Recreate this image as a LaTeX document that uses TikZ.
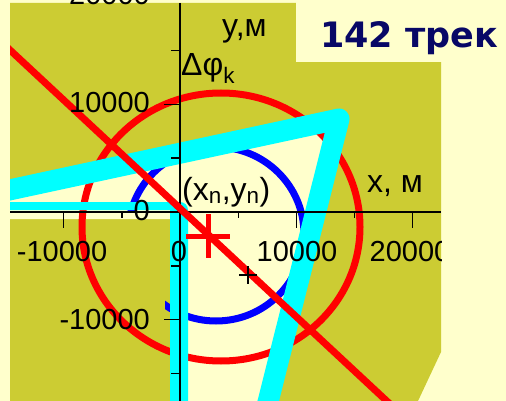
\documentclass[tikz,border=0pt]{standalone}
\usepackage{fontspec}
\setmainfont{Liberation Sans}
\newfontfamily\titlefont{DejaVu Sans}
\usetikzlibrary{positioning}
\definecolor{olivebg}{RGB}{204,204,51}
\definecolor{paper}{RGB}{255,255,204}
\definecolor{beam}{RGB}{0,255,255}
\definecolor{navytitle}{RGB}{8,8,102}

\begin{document}
\begin{tikzpicture}[
    x=1pt, y=-1pt,
    ticklabel/.style={
        font=\fontsize{29}{29}\selectfont,
        inner sep=0pt
    },
    axistitle/.style={
        font=\fontsize{32}{32}\selectfont,
        inner sep=0pt
    },
    beamline/.style={
        draw=beam,
        line width=21pt,
        line join=round
    },
    tickline/.style={
        line width=1.2pt
    }
]

\clip (0,0) rectangle (506,401);
\fill[paper] (0,0) rectangle (506,401);

% plot area
\fill[olivebg] (10,3) -- (441,3) -- (441,352) -- (418,401) -- (10,401) -- cycle;

\begin{scope}
\clip (10,3) rectangle (441,401);

% lit sector
\fill[paper] (0,192) -- (339,119) -- (266,410) -- (179,410) -- (179,219) -- (0,219) -- cycle;

% inner circle, only inside the sector
\begin{scope}
\clip (0,192) -- (339,119) -- (266,410) -- (165,410) -- (165,212) -- (0,212) -- cycle;
\draw[blue, line width=7pt] (216,234) ellipse [x radius=88pt, y radius=87pt];
\end{scope}

\draw[red, line width=7pt] (221,227) ellipse [x radius=139pt, y radius=134pt];

% beam edges
\draw[beamline] (0,192) -- (339,119) -- (266,410);
\fill[beam] (0,202) -- (180,202) arc[start angle=90, end angle=0, radius=8pt]
    -- (188,410) -- (170,410) -- (170,210) -- (0,210) -- cycle;

% axes
\draw[tickline] (10,212) -- (441,212);
\draw[tickline] (180,3) -- (180,401);
\draw[tickline] (63.7,212) -- ++(0,16) (296.3,212) -- ++(0,16) (412.6,212) -- ++(0,16);
\draw[tickline] (122,212) -- ++(0,6) (238.2,212) -- ++(0,6) (354.5,212) -- ++(0,6);
\draw[tickline] (180,-3.4) -- ++(-16,0) (180,104.3) -- ++(-16,0)
    (180,212) -- ++(-16,0) (180,319.7) -- ++(-16,0);
\draw[tickline] (180,50.6) -- ++(-9,0) (180,158) -- ++(-9,0)
    (180,266) -- ++(-9,0) (180,373.4) -- ++(-9,0);

% track line and points
\draw[red, line width=7pt] (0,40.7) -- (420,432);
\draw[red, line width=5pt] (186,236) -- (230,236) (208,214) -- (208,258);
\draw[line width=1.6pt] (239,275) -- (257,275) (248,266) -- (248,284);

% tick labels
\node[ticklabel] (xm1) at (62,252) {-10000};
\node[ticklabel] (x0) at (179,252) {0};
\node[ticklabel] (x1) at (297,252) {10000};
\node[ticklabel] (x2) at (410,252) {20000};
\end{scope}

\node[ticklabel, anchor=east] (y2) at (150,-5) {20000};
\node[ticklabel, anchor=east] (y1) at (150,103) {10000};
\node[ticklabel, anchor=east] (y0) at (150,211) {0};
\node[ticklabel, anchor=east] (ym1) at (150,320) {-10000};

% axis titles
\node[axistitle, anchor=base west] (ytitle) at (222,37) {y,м};
\node[axistitle, anchor=base west] (xtitle) at (367,192) {x, м};
\node[axistitle, anchor=base west] (dphi) at (181,76) {Δφ\textsubscript{k}};
\node[axistitle, anchor=base west] (xnyn) at (182,200) {(x\textsubscript{n},y\textsubscript{n})};

% title
\fill[paper] (296,0) rectangle (506,62);
\node[anchor=base west, inner sep=0pt, text=navytitle,
    font=\titlefont\bfseries\fontsize{35}{35}\selectfont] (track) at (320,48) {142 трек};

\end{tikzpicture}
\end{document}
